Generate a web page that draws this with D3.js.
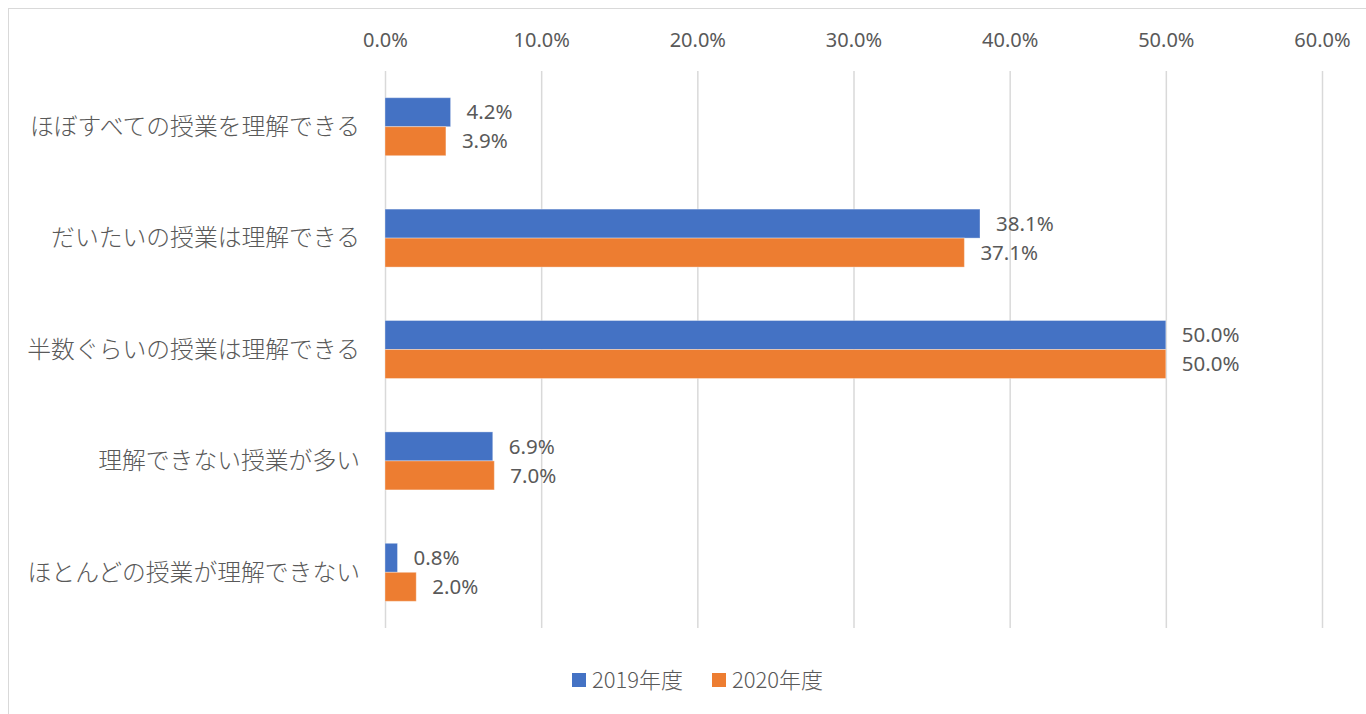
<!DOCTYPE html>
<html>
<head>
<meta charset="UTF-8">
<script src="https://d3js.org/d3.v7.min.js"></script>
<style>
  body { margin: 0; background: #fff; }
  text { font-family: "Noto Sans CJK JP", "Noto Sans", sans-serif; fill: #595959; }
</style>
</head>
<body>
<svg width="1366" height="714"></svg>
<script>
const categories = [
  "ほぼすべての授業を理解できる",
  "だいたいの授業は理解できる",
  "半数ぐらいの授業は理解できる",
  "理解できない授業が多い",
  "ほとんどの授業が理解できない"
];
const seriesNames = ["2019年度", "2020年度"];
const values2019 = [4.2, 38.1, 50.0, 6.9, 0.8];
const values2020 = [3.9, 37.1, 50.0, 7.0, 2.0];
const xTicks = [0, 10, 20, 30, 40, 50, 60];
const colors = ["#4472C4", "#ED7D31"];

const svg = d3.select("svg");

// chart border
svg.append("rect")
  .attr("x", 8.5).attr("y", 8.5)
  .attr("width", 1370).attr("height", 720)
  .attr("fill", "none").attr("stroke", "#d9d9d9");

const plotLeft = 385, plotRight = 1322, plotTop = 71, plotBottom = 628;

const x = d3.scaleLinear().domain([0, 60]).range([plotLeft, plotRight]);
const y = d3.scaleBand().domain(categories).range([plotTop, plotBottom]);
const inner = d3.scaleBand().domain(seriesNames).range([0, 58])
  .paddingInner(0);

// gridlines
svg.append("g").selectAll("line")
  .data(xTicks).join("line")
  .attr("x1", d => x(d) + 0.5).attr("x2", d => x(d) + 0.5)
  .attr("y1", plotTop).attr("y2", plotBottom)
  .attr("stroke", "#d9d9d9").attr("stroke-width", 1.5);

// top axis labels
const axis = d3.axisTop(x).tickValues(xTicks)
  .tickFormat(d => d.toFixed(1) + "%").tickSize(0).tickPadding(0);
const ag = svg.append("g").attr("transform", "translate(0,47)").call(axis);
ag.select(".domain").remove();
ag.selectAll("text").attr("font-size", 20).attr("fill", "#595959")
  .style("font-family", "'Noto Sans', sans-serif");

// category labels
svg.append("g").selectAll("text")
  .data(categories).join("text")
  .attr("x", 360)
  .attr("y", d => y(d) + y.bandwidth() / 2)
  .attr("dy", "0.35em")
  .attr("text-anchor", "end")
  .attr("font-size", 23.8)
  .attr("font-weight", 300)
  .text(d => d);

const series = [values2019, values2020];
series.forEach((vals, si) => {
  const g = svg.append("g");
  const rows = categories.map((c, i) => ({ c, v: vals[i] }));
  const off = y.bandwidth() / 2 - 29;
  g.selectAll("rect").data(rows).join("rect")
    .attr("x", x(0))
    .attr("y", d => y(d.c) + off + inner(seriesNames[si]))
    .attr("width", d => x(d.v) - x(0))
    .attr("height", inner.bandwidth())
    .attr("fill", colors[si])
    .attr("stroke", "#ffffff").attr("stroke-opacity", 0.35).attr("stroke-width", 1);
  g.selectAll("text").data(rows).join("text")
    .attr("x", d => x(d.v) + 16)
    .attr("y", d => y(d.c) + off + inner(seriesNames[si]) + inner.bandwidth() / 2)
    .attr("dy", "0.35em")
    .attr("font-size", 20.5)
    .attr("fill", "#404040")
    .style("font-family", "'Noto Sans', sans-serif")
    .text(d => d.v.toFixed(1) + "%");
});

// legend
const legendX = [572, 712];
seriesNames.forEach((s, i) => {
  svg.append("rect")
    .attr("x", legendX[i]).attr("y", 673)
    .attr("width", 14).attr("height", 14)
    .attr("fill", colors[i]);
  svg.append("text")
    .attr("x", legendX[i] + 20).attr("y", 680)
    .attr("dy", "0.35em")
    .attr("font-size", 22)
    .attr("font-weight", 300)
    .text(s);
});
</script>
</body>
</html>
